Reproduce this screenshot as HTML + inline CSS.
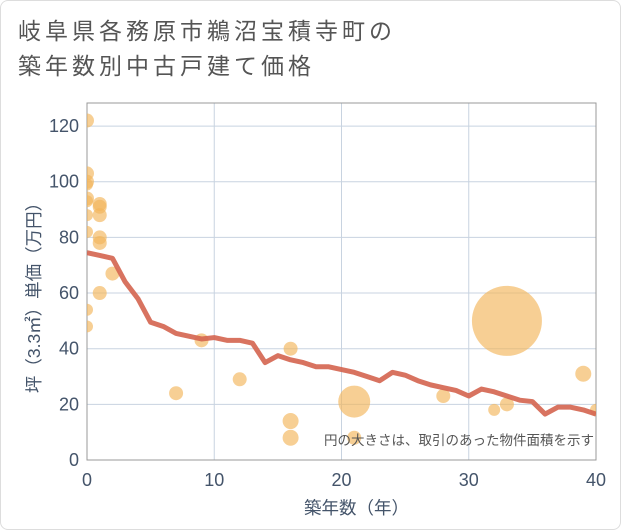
<!DOCTYPE html>
<html><head><meta charset="utf-8"><style>
body{margin:0;background:#fff;font-family:"Liberation Sans","Noto Sans CJK JP",sans-serif;}
</style></head><body>
<div style="position:absolute;left:0;top:0;width:619px;height:528px;border:1px solid #ddd;border-radius:8px;">
<div style="position:absolute;left:17px;top:13px;font-size:23px;letter-spacing:4px;line-height:35px;color:#555;">岐阜県各務原市鵜沼宝積寺町の<br>築年数別中古戸建て価格</div>
</div>
<svg id="c" width="621" height="530" style="position:absolute;left:0;top:0" xmlns="http://www.w3.org/2000/svg"></svg>
<script>
const xTicks=[0,10,20,30,40];
const yTicks=[0,20,40,60,80,100,120];
const ptX=[0,0,0,0,0,0,0,1,1,1,1,1,0,0,0,1,2,7,9,12,16,16,16,21,21,28,32,33,33,39,40];
const ptY=[122,103,100,99,94,93,88,92,91,88,80,78,82,54,48,60,67,24,43,29,40,14,8,21,8,23,18,20,50,31,18];
const ptR=[7,7,7,6,7,6,6,7,7,7,7,7,6,6,6,7,7,7,7,7,7,8,8,16,7,7,6,7,35,8,6];
const lineX=[0,1,2,3,4,5,6,7,8,9,10,11,12,13,14,15,16,17,18,19,20,21,22,23,24,25,26,27,28,29,30,31,32,33,34,35,36,37,38,39,40];
const lineY=[74.5,73.5,72.5,64,58,49.5,48,45.5,44.5,43.5,44,43,43,42,35,37.5,36,35,33.5,33.5,32.5,31.5,30,28.5,31.5,30.5,28.5,27,26,25,23,25.5,24.5,23,21.5,21,16.5,19,19,18,16.5];
const L=87,R=596,T=103,B=460;
const sx=v=>L+(v/40)*(R-L), sy=v=>B-(v/128.3)*(B-T);
const s=document.getElementById('c'),NS='http://www.w3.org/2000/svg';
function mk(t,a,p){const e=document.createElementNS(NS,t);for(const k in a)e.setAttribute(k,a[k]);(p||s).appendChild(e);return e;}
const defs=mk('clipPath',{id:'cp'});mk('rect',{x:L,y:T,width:R-L,height:B-T},defs);
yTicks.forEach(v=>{const g=mk('line',{x1:L,x2:R,y1:sy(v),y2:sy(v),stroke:'#c8d3e0','stroke-width':1});

const t=mk('text',{x:L-8,y:sy(v)+6,'text-anchor':'end','font-size':18,fill:'#44546a'});t.textContent=v;
});
xTicks.forEach(v=>{const g=mk('line',{x1:sx(v),x2:sx(v),y1:T,y2:B,stroke:'#c8d3e0','stroke-width':1});

const t=mk('text',{x:sx(v),y:B+26,'text-anchor':'middle','font-size':18,fill:'#44546a'});t.textContent=v;
});
const fr=mk('rect',{x:L,y:T,width:R-L,height:B-T,fill:'none',stroke:'#999','stroke-width':1});

const cg=mk('g',{'clip-path':'url(#cp)'});
ptX.forEach((x,i)=>{const c=mk('circle',{cx:sx(x),cy:sy(ptY[i]),r:ptR[i],fill:'#f2b65a','fill-opacity':0.65},cg);
});
const pl=mk('polyline',{points:lineX.map((x,i)=>sx(x)+','+sy(lineY[i])).join(' '),fill:'none',stroke:'#d4644f','stroke-width':5,'stroke-linejoin':'round','stroke-opacity':0.9},cg);

const n=mk('text',{x:594,y:445,'text-anchor':'end','font-size':13.5,fill:'#555'});n.textContent='円の大きさは、取引のあった物件面積を示す';

const xt=mk('text',{x:(L+R)/2+15,y:514,'text-anchor':'middle','font-size':17.5,fill:'#44546a'});xt.textContent='築年数（年）';

const yt=mk('text',{x:0,y:0,'text-anchor':'middle','font-size':17.5,fill:'#44546a',transform:`translate(40,${(T+B)/2+12}) rotate(-90)`});yt.textContent='坪（3.3㎡）単価（万円）';

</script>
</body></html>
